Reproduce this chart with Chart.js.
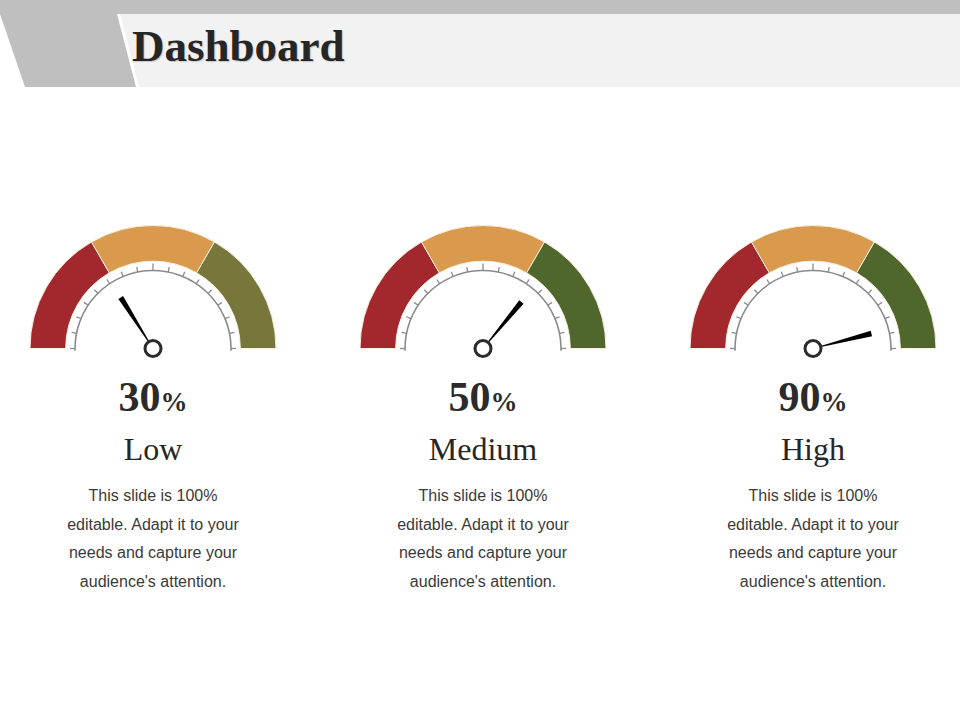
<!DOCTYPE html>
<html>
<head>
<meta charset="utf-8">
<script src="https://cdn.jsdelivr.net/npm/chart.js@4.4.1/dist/chart.umd.min.js"></script>
<style>
  html, body { margin: 0; padding: 0; background: #fff; }
  #page { position: relative; width: 960px; height: 720px; overflow: hidden; }
  #header { position: absolute; left: 0; top: 0; }
  #title {
    position: absolute; left: 132px; top: 22px;
    font-family: "Liberation Serif", "Times New Roman", serif;
    font-weight: bold; font-size: 45px; line-height: 48px; color: #262626;
    text-shadow: 1px 1px 1px rgba(0,0,0,0.18);
  }
  .gauge { position: absolute; width: 260px; height: 150px; }
  .value {
    position: absolute; width: 240px; text-align: center;
    font-family: "Liberation Serif", "Times New Roman", serif;
    font-weight: bold; color: #2b2b2b; font-size: 42px; line-height: 40px;
  }
  .value span { font-size: 27px; }
  .label {
    position: absolute; width: 240px; text-align: center;
    font-family: "Liberation Serif", "Times New Roman", serif;
    font-size: 32px; line-height: 34px; color: #262626;
  }
  .desc {
    position: absolute; width: 240px; text-align: center;
    font-family: "Liberation Sans", Arial, sans-serif;
    font-size: 16px; line-height: 28.5px; color: #3a3a3a;
  }
</style>
</head>
<body>
<div id="page">
  <svg id="header" width="960" height="90">
    <rect x="0" y="0" width="960" height="14" fill="#bfbfbf"></rect>
    <polygon points="120,14 960,14 960,87 139,87" fill="#f2f2f2"></polygon>
    <polygon points="0,0 116,0 117,14 136,87 25,87 0,14" fill="#bfbfbf"></polygon>
  </svg>
  <div id="title">Dashboard</div>
</div>

<script>
// gauge data
const gaugeNames = ['Low', 'Medium', 'High'];
const gaugeValues = [30, 50, 90];          // printed percentages
const needleValues = [32, 72, 92];         // where each needle sits on the dial (% of scale)
const zoneSizes = [1, 1, 1];               // three equal colour zones
const zoneColors = [
    ['#a3282d', '#da9a4d', '#77773c'],
    ['#a3282d', '#da9a4d', '#4f672d'],
    ['#a3282d', '#da9a4d', '#4f672d']
];
const tickCount = 16;
const descText = 'This slide is 100%<br>editable. Adapt it to your<br>needs and capture your<br>audience\'s attention.';

const centersX = [153, 483, 813];

// draws the tick scale, needle and hub on top of the doughnut
const gaugeDial = {
    id: 'gaugeDial',
    afterDatasetsDraw(chart, args, opts) {
        const meta = chart.getDatasetMeta(0);
        const first = meta.data[0];
        const last = meta.data[meta.data.length - 1];
        const cx = first.x, cy = first.y;
        const R = first.outerRadius;
        const a0 = first.startAngle, a1 = last.endAngle;
        const ctx = chart.ctx;
        ctx.save();

        // scale arc
        const rs = R * 0.634;
        ctx.strokeStyle = '#8a8a8a';
        ctx.lineWidth = 1.6;
        ctx.beginPath();
        ctx.arc(cx, cy, rs, a0 - 0.03, a1 + 0.03);
        ctx.stroke();

        // ticks pointing outward
        ctx.lineWidth = 1.3;
        for (let i = 0; i <= tickCount; i++) {
            const a = a0 + (a1 - a0) * i / tickCount;
            const len = (i === tickCount / 2) ? 7 : 5;
            ctx.beginPath();
            ctx.moveTo(cx + Math.cos(a) * rs, cy + Math.sin(a) * rs);
            ctx.lineTo(cx + Math.cos(a) * (rs + len), cy + Math.sin(a) * (rs + len));
            ctx.stroke();
        }

        // needle: thin at hub, wide at the tip
        const na = a0 + (a1 - a0) * opts.value / 100;
        const r0 = 8, r1 = R * 0.49;
        const px = -Math.sin(na), py = Math.cos(na);
        ctx.fillStyle = '#000';
        ctx.beginPath();
        ctx.moveTo(cx + Math.cos(na) * r0 + px * 0.6, cy + Math.sin(na) * r0 + py * 0.6);
        ctx.lineTo(cx + Math.cos(na) * r1 + px * 2.8, cy + Math.sin(na) * r1 + py * 2.8);
        ctx.lineTo(cx + Math.cos(na) * r1 - px * 2.8, cy + Math.sin(na) * r1 - py * 2.8);
        ctx.lineTo(cx + Math.cos(na) * r0 - px * 0.6, cy + Math.sin(na) * r0 - py * 0.6);
        ctx.closePath();
        ctx.fill();

        // hub
        ctx.beginPath();
        ctx.arc(cx, cy, 8, 0, Math.PI * 2);
        ctx.fillStyle = '#fff';
        ctx.fill();
        ctx.lineWidth = 3;
        ctx.strokeStyle = '#2b2b2b';
        ctx.stroke();
        ctx.restore();
    }
};

function buildGauge(i) {
    const page = document.getElementById('page');
    const cx = centersX[i];

    const box = document.createElement('div');
    box.className = 'gauge';
    box.style.left = (cx - 130) + 'px';
    box.style.top = '213px';
    const canvas = document.createElement('canvas');
    box.appendChild(canvas);
    page.appendChild(box);

    new Chart(canvas, {
        type: 'doughnut',
        data: {
            labels: ['Low', 'Medium', 'High'],
            datasets: [{
                data: zoneSizes,
                backgroundColor: zoneColors[i],
                borderColor: '#f6efdc',
                borderWidth: 1
            }]
        },
        options: {
            responsive: true,
            maintainAspectRatio: false,
            animation: false,
            events: [],
            rotation: -90,
            circumference: 180,
            cutout: '71%',
            layout: { padding: { left: 6, right: 6, top: 12, bottom: 14 } },
            plugins: {
                legend: { display: false },
                tooltip: { enabled: false },
                gaugeDial: { value: needleValues[i] }
            }
        },
        plugins: [gaugeDial]
    });

    const val = document.createElement('div');
    val.className = 'value';
    val.style.left = (cx - 120) + 'px';
    val.style.top = '377px';
    val.innerHTML = gaugeValues[i] + '<span>%</span>';
    page.appendChild(val);

    const lab = document.createElement('div');
    lab.className = 'label';
    lab.style.left = (cx - 120) + 'px';
    lab.style.top = '432px';
    lab.textContent = gaugeNames[i];
    page.appendChild(lab);

    const desc = document.createElement('div');
    desc.className = 'desc';
    desc.style.left = (cx - 120) + 'px';
    desc.style.top = '482px';
    desc.innerHTML = descText;
    page.appendChild(desc);
}

gaugeNames.forEach((n, i) => buildGauge(i));
</script>
</body>
</html>
